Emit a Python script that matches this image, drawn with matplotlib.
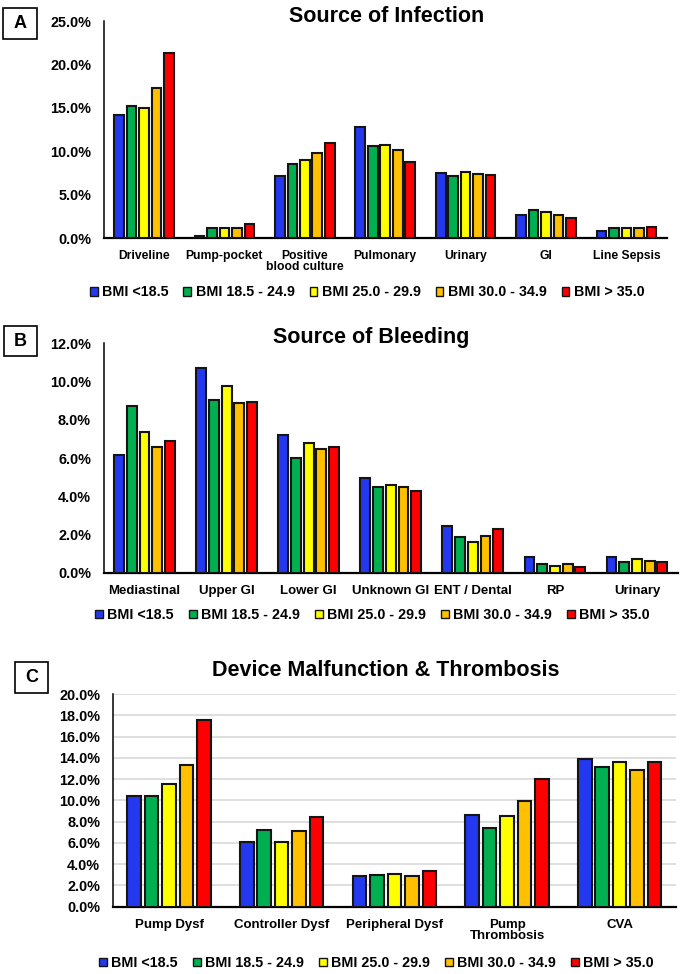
import numpy as np
import matplotlib
matplotlib.use("Agg")
import matplotlib.pyplot as plt
from matplotlib.patches import Patch, Rectangle
from matplotlib.ticker import FuncFormatter

plt.rcParams['font.family'] = ['Liberation Sans', 'DejaVu Sans']
plt.rcParams['font.weight'] = 'bold'

# Data (percent)
groups = ["BMI <18.5", "BMI 18.5 - 24.9", "BMI 25.0 - 29.9", "BMI 30.0 - 34.9", "BMI > 35.0"]
colors = ["#2438F0", "#00B050", "#FFFF00", "#FFC000", "#FF0000"]

inf_cats = ["Driveline", "Pump-pocket", "Positive\nblood culture", "Pulmonary", "Urinary", "GI", "Line Sepsis"]
inf_bmi_lt185 = [14.2, 0.2, 7.1, 12.8, 7.5, 2.6, 0.8]
inf_bmi_185 = [15.2, 1.15, 8.5, 10.6, 7.1, 3.25, 1.1]
inf_bmi_250 = [15.0, 1.2, 9.0, 10.75, 7.65, 2.95, 1.2]
inf_bmi_300 = [17.3, 1.1, 9.8, 10.15, 7.4, 2.7, 1.2]
inf_bmi_350 = [21.3, 1.65, 11.0, 8.8, 7.3, 2.3, 1.3]

bld_cats = ["Mediastinal", "Upper GI", "Lower GI", "Unknown GI", "ENT / Dental", "RP", "Urinary"]
bld_bmi_lt185 = [6.15, 10.7, 7.2, 4.94, 2.46, 0.8, 0.8]
bld_bmi_185 = [8.7, 9.05, 5.99, 4.5, 1.88, 0.44, 0.54]
bld_bmi_250 = [7.38, 9.77, 6.77, 4.59, 1.62, 0.37, 0.7]
bld_bmi_300 = [6.6, 8.87, 6.46, 4.47, 1.94, 0.45, 0.59]
bld_bmi_350 = [6.9, 8.95, 6.56, 4.28, 2.27, 0.31, 0.54]

dev_cats = ["Pump Dysf", "Controller Dysf", "Peripheral Dysf", "Pump\nThrombosis", "CVA"]
dev_bmi_lt185 = [10.4, 6.1, 2.88, 8.58, 13.87]
dev_bmi_185 = [10.43, 7.2, 2.97, 7.39, 13.09]
dev_bmi_250 = [11.5, 6.1, 3.07, 8.52, 13.62]
dev_bmi_300 = [13.3, 7.1, 2.9, 9.9, 12.87]
dev_bmi_350 = [17.6, 8.45, 3.38, 11.99, 13.56]

W, H = 683, 974
fig = plt.figure(figsize=(W / 100, H / 100), dpi=100)


def fx(px):
    return px / W


def fy(py):
    return 1 - py / H


def panel(rect, cats, series, ymax, ystep, title, title_xy, letter, box, leg_xy,
          cat_size, grid=False):
    left, top, right, bottom = rect
    ax = fig.add_axes([fx(left), fy(bottom), fx(right - left), fy(top) - fy(bottom)])
    x = np.arange(len(cats))
    for i, vals in enumerate(series):
        ax.bar(x + (i - 2) * 0.155, vals, width=0.12, color=colors[i],
               edgecolor="#151515", linewidth=1.5, zorder=3)
    ax.set_xlim(-0.5, len(cats) - 0.5)
    ax.set_ylim(0, ymax)
    ax.set_yticks(np.arange(0, ymax + 0.01, ystep))
    ax.yaxis.set_major_formatter(FuncFormatter(lambda v, p: f"{v:.1f}%"))
    ax.set_xticks(x)
    ax.set_xticklabels(cats, fontsize=cat_size, fontweight="bold", linespacing=0.95)
    ax.tick_params(axis="y", length=0, pad=9, labelsize=10.4)
    ax.tick_params(axis="x", length=0, pad=8.5)
    for s in ["top", "right"]:
        ax.spines[s].set_visible(False)
    ax.spines["left"].set_linewidth(1.1)
    ax.spines["bottom"].set_linewidth(1.6)
    if grid:
        ax.yaxis.grid(True, color="#d9d9d9", linewidth=1.2)
        ax.set_axisbelow(True)
    fig.text(fx(title_xy[0]), fy(title_xy[1]), title, ha="center", va="center",
             fontsize=15.5, fontweight="bold")
    bx0, by0, bx1, by1 = box
    fig.add_artist(Rectangle((fx(bx0), fy(by1)), fx(bx1 - bx0), fy(by0) - fy(by1),
                             transform=fig.transFigure, fill=False,
                             edgecolor="black", linewidth=1.2))
    fig.text(fx((bx0 + bx1) / 2), fy((by0 + by1) / 2), letter, ha="center",
             va="center", fontsize=13, fontweight="bold")
    handles = [Patch(facecolor=c, edgecolor="#151515", linewidth=1.0) for c in colors]
    fig.legend(handles, groups, loc="center", ncol=5, frameon=False,
               bbox_to_anchor=(fx(leg_xy[0]), fy(leg_xy[1])),
               prop={"size": 10.3, "weight": "bold"},
               handlelength=0.55, handleheight=0.55, handletextpad=0.3,
               columnspacing=1.05, borderaxespad=0, borderpad=0)
    return ax


panel((103.8, 21.3, 666.7, 238.0), inf_cats,
      [inf_bmi_lt185, inf_bmi_185, inf_bmi_250, inf_bmi_300, inf_bmi_350],
      25, 5, "Source of Infection", (386.5, 16), "A", (3, 8, 37, 39),
      (367, 292.5), 8.7)

panel((103.5, 343.3, 678.0, 572.7), bld_cats,
      [bld_bmi_lt185, bld_bmi_185, bld_bmi_250, bld_bmi_300, bld_bmi_350],
      12, 2, "Source of Bleeding", (370.7, 337), "B", (3.5, 326, 37, 356),
      (372.5, 615), 9.5)

panel((112.7, 694.0, 676.0, 906.7), dev_cats,
      [dev_bmi_lt185, dev_bmi_185, dev_bmi_250, dev_bmi_300, dev_bmi_350],
      20, 2, "Device Malfunction & Thrombosis", (385.7, 670.7), "C", (15, 662, 48, 693),
      (376.5, 963), 9.5, grid=True)

fig.savefig("out.png", dpi=100)
